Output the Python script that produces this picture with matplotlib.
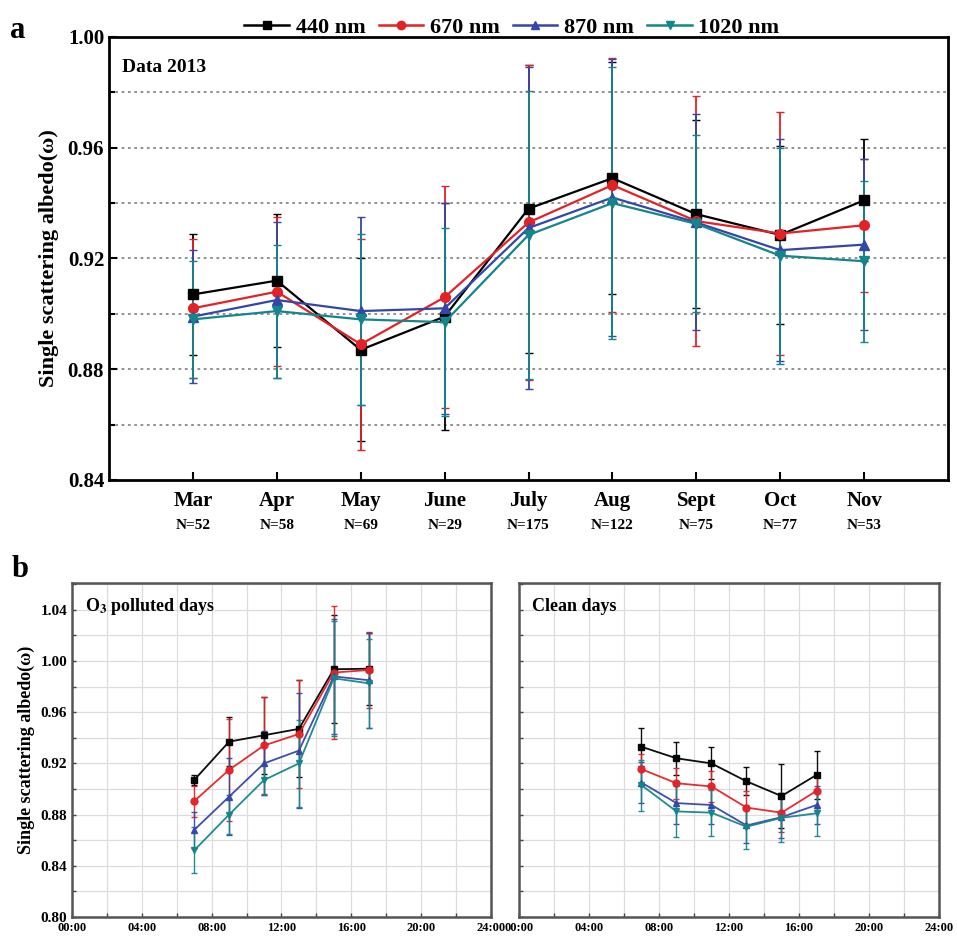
import numpy as np
import matplotlib
matplotlib.use('Agg')
import matplotlib.pyplot as plt
from matplotlib.lines import Line2D
from matplotlib.transforms import blended_transform_factory

plt.rcParams['font.family'] = ['Liberation Serif', 'DejaVu Serif']
plt.rcParams['font.weight'] = 'bold'
plt.rcParams['axes.labelweight'] = 'bold'
plt.rcParams['mathtext.fontset'] = 'stix'

# dados painel a (media mensal 2013)
meses = ['Mar', 'Apr', 'May', 'June', 'July', 'Aug', 'Sept', 'Oct', 'Nov']
n_obs = [52, 58, 69, 29, 175, 122, 75, 77, 53]
ssa_440 = [0.907, 0.912, 0.887, 0.899, 0.938, 0.949, 0.936, 0.9285, 0.941]
ssa_670 = [0.902, 0.908, 0.889, 0.906, 0.933, 0.9465, 0.9335, 0.929, 0.932]
ssa_870 = [0.899, 0.905, 0.901, 0.902, 0.931, 0.942, 0.933, 0.923, 0.925]
ssa_1020 = [0.898, 0.901, 0.898, 0.897, 0.9285, 0.940, 0.9325, 0.921, 0.919]
err_440 = [0.022, 0.024, 0.033, 0.041, 0.052, 0.042, 0.034, 0.032, 0.022]
err_670 = [0.025, 0.027, 0.038, 0.040, 0.057, 0.046, 0.045, 0.044, 0.024]
err_870 = [0.024, 0.028, 0.034, 0.038, 0.058, 0.050, 0.039, 0.040, 0.031]
err_1020 = [0.021, 0.024, 0.031, 0.034, 0.052, 0.049, 0.032, 0.039, 0.029]

# dados painel b (ciclo diurno)
horas = [7, 9, 11, 13, 15, 17]
pol_440 = [0.907, 0.937, 0.942, 0.947, 0.9936, 0.994]
pol_670 = [0.8905, 0.915, 0.934, 0.943, 0.991, 0.993]
pol_870 = [0.868, 0.894, 0.920, 0.930, 0.988, 0.985]
pol_1020 = [0.852, 0.880, 0.907, 0.920, 0.9865, 0.9826]
pol_err_440 = [0.004, 0.019, 0.030, 0.038, 0.042, 0.028]
pol_err_670 = [0.012, 0.040, 0.038, 0.042, 0.052, 0.030]
pol_err_870 = [0.014, 0.030, 0.025, 0.045, 0.045, 0.037]
pol_err_1020 = [0.018, 0.015, 0.012, 0.034, 0.045, 0.035]

limpo_440 = [0.933, 0.924, 0.920, 0.906, 0.8945, 0.911]
limpo_670 = [0.9155, 0.9045, 0.902, 0.8855, 0.8815, 0.8985]
limpo_870 = [0.905, 0.889, 0.8875, 0.8715, 0.878, 0.8875]
limpo_1020 = [0.903, 0.8825, 0.8815, 0.8705, 0.8775, 0.881]
limpo_err_440 = [0.015, 0.013, 0.0125, 0.011, 0.025, 0.019]
limpo_err_670 = [0.012, 0.012, 0.012, 0.013, 0.015, 0.013]
limpo_err_870 = [0.016, 0.016, 0.015, 0.014, 0.016, 0.015]
limpo_err_1020 = [0.020, 0.020, 0.018, 0.017, 0.019, 0.018]

rotulos = ['440 nm', '670 nm', '870 nm', '1020 nm']
cores = ['black', '#e32226', '#3446a8', '#14858a']
marcadores = ['s', 'o', '^', 'v']

fig = plt.figure(figsize=(9.57, 9.38), dpi=100)

# ---- painel a
ax = fig.add_axes([0.1139, 0.4883, 0.8767, 0.4723])
x = np.arange(1, len(meses) + 1)
series = [(ssa_440, err_440), (ssa_670, err_670), (ssa_870, err_870), (ssa_1020, err_1020)]
for (y, e), c, m in zip(series, cores, marcadores):
    ax.errorbar(x, y, yerr=e, color=c, ecolor=c, elinewidth=1.3, capsize=3,
                lw=1.6, marker=m, ms=7, zorder=3)
ax.set_xlim(0, 10)
ax.set_ylim(0.84, 1.00)
ax.set_yticks([0.84, 0.88, 0.92, 0.96, 1.00])
ax.set_yticks(np.arange(0.86, 1.0, 0.04), minor=True)
ax.set_yticklabels(['0.84', '0.88', '0.92', '0.96', '1.00'], fontsize=15)
for g in [0.86, 0.88, 0.90, 0.92, 0.94, 0.96, 0.98]:
    ax.axhline(g, color='#888888', ls=(0, (1.5, 2)), lw=1.3, zorder=1)
ax.set_xticks(x)
ax.set_xticklabels(meses, fontsize=15)
ax.tick_params(axis='both', which='both', direction='in', length=6, width=1.5)
ax.tick_params(axis='x', pad=8)
ax.tick_params(axis='y', which='minor', length=4)
for s in ax.spines.values():
    s.set_linewidth(2)
trans = blended_transform_factory(ax.transData, ax.transAxes)
for xi, n in zip(x, n_obs):
    ax.text(xi, -0.103, f'N={n}', transform=trans, ha='center', va='center', fontsize=11)
ax.set_ylabel('Single scattering albedo(ω)', fontsize=16, labelpad=6)
ax.text(0.015, 0.93, 'Data 2013', transform=ax.transAxes, fontsize=14, va='center')

handles = [Line2D([], [], color=c, marker=m, ms=6, lw=1.8) for c, m in zip(cores, marcadores)]
fig.legend(handles, rotulos, loc='upper center', bbox_to_anchor=(0.535, 1.003), ncol=4,
           frameon=False, fontsize=16, handlelength=2.0, handletextpad=0.3, columnspacing=0.6)
fig.text(0.01, 0.968, 'a', fontsize=22, va='center')

# ---- painel b
def painel_diurno(ax, dados, titulo, mostrar_y):
    for (y, e), c, m in zip(dados, cores, marcadores):
        ax.errorbar(horas, y, yerr=e, color=c, ecolor=c, elinewidth=1.0, capsize=2.5,
                    lw=1.3, marker=m, ms=5, alpha=0.95, zorder=3)
    ax.set_xlim(0, 24)
    ax.set_ylim(0.80, 1.061)
    ax.set_xticks(range(0, 25, 4))
    ax.set_xticks(range(0, 25, 2), minor=True)
    ax.set_xticklabels([f'{h:02d}:00' for h in range(0, 25, 4)], fontsize=9)
    ax.set_yticks([0.80, 0.84, 0.88, 0.92, 0.96, 1.00, 1.04])
    ax.set_yticks(np.arange(0.82, 1.06, 0.04), minor=True)
    if mostrar_y:
        ax.set_yticklabels(['0.80', '0.84', '0.88', '0.92', '0.96', '1.00', '1.04'], fontsize=11)
    else:
        ax.set_yticklabels([])
    ax.grid(True, which='both', color='#dddddd', lw=0.9, zorder=0)
    ax.tick_params(axis='both', which='both', direction='in', length=3, width=1.0, colors='#444444')
    ax.tick_params(labelcolor='black')
    for s in ax.spines.values():
        s.set_linewidth(1.8)
        s.set_color('#555555')
    ax.text(0.03, 0.93, titulo, transform=ax.transAxes, fontsize=13, va='center')

ax_b1 = fig.add_axes([0.0752, 0.0224, 0.4378, 0.3561])
painel_diurno(ax_b1, [(pol_440, pol_err_440), (pol_670, pol_err_670),
                      (pol_870, pol_err_870), (pol_1020, pol_err_1020)],
              r'O$_\mathbf{3}$ polluted days', True)
ax_b1.set_ylabel('Single scattering albedo(ω)', fontsize=13, labelpad=4)

ax_b2 = fig.add_axes([0.5423, 0.0224, 0.4389, 0.3561])
painel_diurno(ax_b2, [(limpo_440, limpo_err_440), (limpo_670, limpo_err_670),
                      (limpo_870, limpo_err_870), (limpo_1020, limpo_err_1020)],
              'Clean days', False)
fig.text(0.012, 0.393, 'b', fontsize=22, va='center')

plt.savefig('out.png', dpi=100)
